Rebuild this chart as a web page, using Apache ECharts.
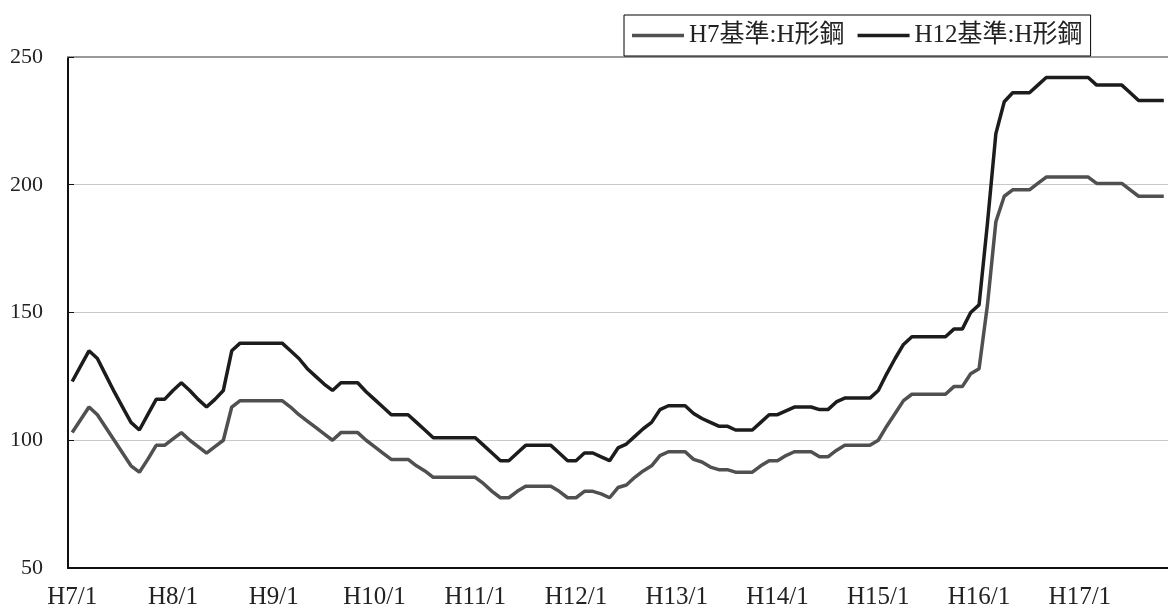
<!DOCTYPE html>
<html>
<head>
<meta charset="utf-8">
<title>H形鋼 価格指数</title>
<script src="https://cdn.jsdelivr.net/npm/echarts@6.0.0/dist/echarts.min.js"></script>
<style>
    html, body { margin: 0; padding: 0; background: #fff; }
    #msg-chart { width: 1168px; height: 610px; }
</style>
</head>
<body>
<div id="msg-chart"></div>
<script>
// 年ラベル（H7〜H17）, 月毎のカテゴリを作る
var years = ['H7', 'H8', 'H9', 'H10', 'H11', 'H12', 'H13', 'H14', 'H15', 'H16', 'H17'];
var monthCount = 131; // H7/1 〜 H17/11

// H7基準:H形鋼 (1年12ヶ月ずつ)
var h7Values = [
    103, 108, 113, 110, 105, 100, 95, 90, 87.5, 92.5, 98, 98,
    100.5, 103, 100, 97.5, 95, 97.5, 100, 113, 115.5, 115.5, 115.5, 115.5,
    115.5, 115.5, 113, 110, 107.5, 105, 102.5, 100, 103, 103, 103, 100,
    97.5, 95, 92.5, 92.5, 92.5, 90, 88, 85.5, 85.5, 85.5, 85.5, 85.5,
    85.5, 83, 80, 77.5, 77.5, 80, 82, 82, 82, 82, 80, 77.5,
    77.5, 80, 80, 79, 77.5, 81.5, 82.5, 85.5, 88, 90, 94, 95.5,
    95.5, 95.5, 92.5, 91.5, 89.5, 88.5, 88.5, 87.5, 87.5, 87.5, 90, 92,
    92, 94, 95.5, 95.5, 95.5, 93.5, 93.5, 96, 98, 98, 98, 98,
    100, 105.5, 110.5, 115.5, 118, 118, 118, 118, 118, 121, 121, 126,
    128, 153, 185.5, 195.5, 198, 198, 198, 200.5, 203, 203, 203, 203,
    203, 203, 200.5, 200.5, 200.5, 200.5, 198, 195.5, 195.5, 195.5, 195.5
];

// H12基準:H形鋼
var h12Values = [
    123, 129, 135, 132, 125.5, 119, 113, 107, 104, 110, 116, 116,
    119.5, 122.5, 119.5, 116, 113, 116, 119.5, 135, 138, 138, 138, 138,
    138, 138, 135, 132, 128, 125, 122, 119.5, 122.5, 122.5, 122.5, 119,
    116, 113, 110, 110, 110, 107, 104, 101, 101, 101, 101, 101,
    101, 98, 95, 92, 92, 95, 98, 98, 98, 98, 95, 92,
    92, 95, 95, 93.5, 92, 97, 98.5, 101.5, 104.5, 107, 112, 113.5,
    113.5, 113.5, 110.5, 108.5, 107, 105.5, 105.5, 104, 104, 104, 107, 110,
    110, 111.5, 113, 113, 113, 112, 112, 115, 116.5, 116.5, 116.5, 116.5,
    119.5, 126, 132, 137.5, 140.5, 140.5, 140.5, 140.5, 140.5, 143.5, 143.5, 150,
    153, 185, 220, 232.5, 236, 236, 236, 239, 242, 242, 242, 242,
    242, 242, 239, 239, 239, 239, 236, 233, 233, 233, 233
];

var seriesNames = ['H7基準:H形鋼', 'H12基準:H形鋼'];
var yTicks = [50, 100, 150, 200, 250];

window.onload = function () {
    init();
};

function init() {
    var categories = [];
    for (var i = 0; i < monthCount; i++) {
        categories.push(years[Math.floor(i / 12)] + '/' + (i % 12 + 1));
    }

    var myChart = echarts.init(document.getElementById('msg-chart'));
    var serifFont = '"Liberation Serif", "Noto Sans CJK JP", serif';

    var option = {
        animation: false,
        color: ['#505050', '#1c1c1c'],
        legend: {
            data: seriesNames.map(function (name) {
                return { name: name, icon: 'rect' };
            }),
            left: 624,
            top: 15,
            itemWidth: 52,
            itemHeight: 3.5,
            itemGap: 13,
            padding: [8, 8, 8, 8],
            borderColor: '#000',
            borderWidth: 1,
            textStyle: {
                fontFamily: serifFont,
                fontSize: 25,
                color: '#222'
            }
        },
        grid: {
            left: 68,
            right: 0,
            top: 57,
            bottom: 41
        },
        xAxis: [{
            type: 'category',
            data: categories,
            boundaryGap: true,
            axisLine: { lineStyle: { color: '#111', width: 2 } },
            axisTick: {
                inside: true,
                length: 6,
                interval: 11,
                lineStyle: { color: '#111' }
            },
            axisLabel: {
                interval: 11,
                margin: 17,
                fontFamily: serifFont,
                fontSize: 25,
                color: '#222'
            },
            splitLine: { show: false }
        }, {
            // 上端の枠線
            type: 'category',
            data: categories,
            position: 'top',
            axisLine: { lineStyle: { color: '#9a9a9a', width: 2 } },
            axisTick: { show: false },
            axisLabel: { show: false }
        }],
        yAxis: {
            type: 'value',
            min: yTicks[0],
            max: yTicks[yTicks.length - 1],
            interval: 50,
            axisLine: { show: true, lineStyle: { color: '#111', width: 2 } },
            axisTick: { show: true, inside: true, length: 6, lineStyle: { color: '#111' } },
            axisLabel: {
                margin: 25,
                fontFamily: serifFont,
                fontSize: 22,
                color: '#222'
            },
            splitLine: { lineStyle: { color: '#c8c8c8', width: 1 } }
        },
        series: [{
            name: seriesNames[0],
            type: 'line',
            data: h7Values,
            symbol: 'none',
            lineStyle: { width: 3.5 }
        }, {
            name: seriesNames[1],
            type: 'line',
            data: h12Values,
            symbol: 'none',
            lineStyle: { width: 3.5 }
        }]
    };

    myChart.clear();
    myChart.setOption(option);
}
</script>
</body>
</html>
